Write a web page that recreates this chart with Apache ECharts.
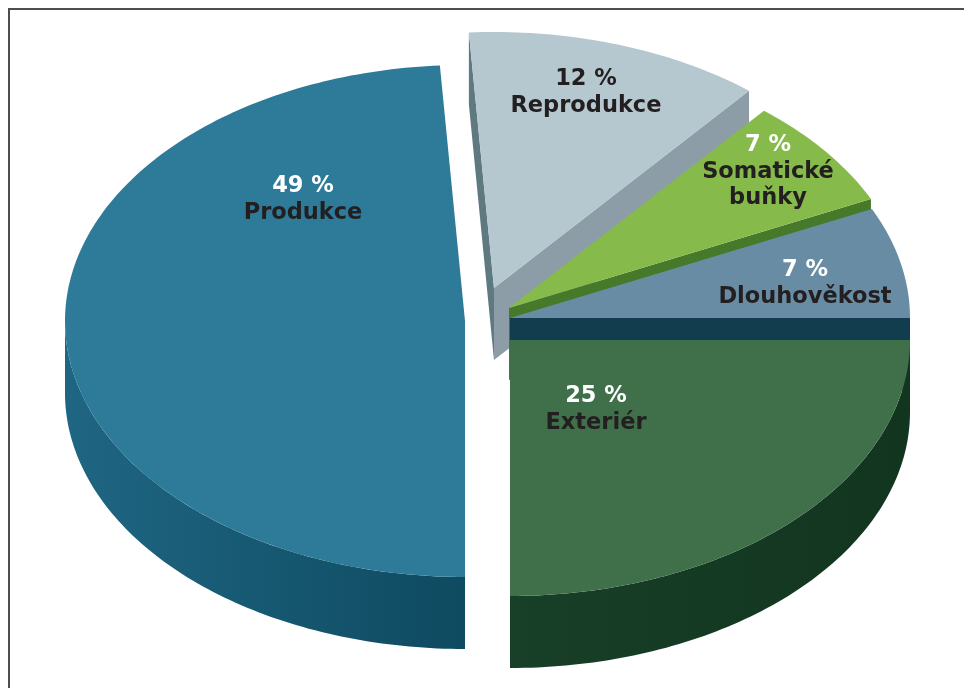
<!DOCTYPE html>
<html><head><meta charset="utf-8">
<script src="https://cdn.jsdelivr.net/npm/echarts@6/dist/echarts.min.js"></script>
<style>html,body{margin:0;padding:0;background:#fff}#c{width:964px;height:688px}</style>
</head><body><div id="c"></div>
<script>
// ---- data ----
const categories = ['Dlouhověkost', 'Somatické\nbuňky', 'Reprodukce', 'Produkce', 'Exteriér'];
const values = [7, 7, 12, 49, 25];
const percentLabels = ['7 %', '7 %', '12 %', '49 %', '25 %'];

// ---- styles ----
const topColors = ['#688ca3', '#86bb4c', '#b5c7cf', '#2e7a99', '#40704a'];
const startFaceColors = ['#123d4f', '#467a2a', '#8d9da7', '#1b5f7a', '#163d26'];
const endFaceColors = ['#123d4f', '#467a2a', '#5f7981', '#1b5f7a', '#163d26'];
const rimColorsA = ['#123d4f', '#467a2a', '#8d9da7', '#1f6683', '#183f28'];
const rimColorsB = ['#123d4f', '#467a2a', '#8d9da7', '#0e4a60', '#12351f'];
const pctColors = ['#ffffff', '#ffffff', '#231f20', '#ffffff', '#ffffff'];
const nameColor = '#231f20';

// ---- layout ----
const CX = 490, CY = 320, RX = 400, RY = 256, DEPTH = 72;
const explode = [[20, -2], [19, -12], [4, -32], [-25, 1], [20, 20]];
const labelShift = [[295, -35], [259, -137], [92, -196], [-162, -122], [86, 69]];
const drawRank = [3, 2, 1, 5, 4];
const FONT = 'DejaVu Sans';
const FS = 22.5;

const total = values.reduce((s, v) => s + v, 0);
const starts = [];
values.reduce((acc, v, i) => { starts[i] = acc; return acc + v; }, 0);

const D2R = Math.PI / 180;
function rim(ax, ay, deg) { return [ax + RX * Math.cos(deg * D2R), ay - RY * Math.sin(deg * D2R)]; }
function arcPts(ax, ay, a0, a1) {
  const pts = [];
  const n = Math.max(2, Math.ceil(Math.abs(a1 - a0)));
  for (let k = 0; k <= n; k++) pts.push(rim(ax, ay, a0 + (a1 - a0) * k / n));
  return pts;
}
function face(ax, ay, deg) {
  const r = rim(ax, ay, deg);
  return [[ax, ay], r, [r[0], r[1] + DEPTH], [ax, ay + DEPTH]];
}

function renderItem(params, api) {
  const i = params.dataIndex;
  const v = api.value(0);
  const a0 = 360 * starts[i] / total;
  const a1 = a0 + 360 * v / total;
  const ax = CX + explode[i][0], ay = CY + explode[i][1];
  const base = drawRank[i] * 10;
  const children = [];
  const lo = Math.max(a0, 180), hi = Math.min(a1, 360);
  if (hi > lo) {
    const top = arcPts(ax, ay, lo, hi);
    const bottom = top.map(p => [p[0], p[1] + DEPTH]).reverse();
    children.push({
      type: 'polygon', z2: base,
      shape: { points: top.concat(bottom) },
      style: { fill: new echarts.graphic.LinearGradient(0, 0, 1, 0, [
        { offset: 0, color: rimColorsA[i] }, { offset: 1, color: rimColorsB[i] }]) }
    });
  }
  if (Math.cos(a0 * D2R) > 1e-6) {
    children.push({ type: 'polygon', z2: base + 1, shape: { points: face(ax, ay, a0) },
      style: { fill: startFaceColors[i] } });
  }
  if (Math.cos(a1 * D2R) < -1e-6) {
    children.push({ type: 'polygon', z2: base + 1, shape: { points: face(ax, ay, a1) },
      style: { fill: endFaceColors[i] } });
  }
  children.push({
    type: 'polygon', z2: base + 2,
    shape: { points: [[ax, ay]].concat(arcPts(ax, ay, a0, a1)) },
    style: { fill: topColors[i] }
  });
  const nameLines = categories[i].split('\n').map(s => '{n|' + s + '}').join('\n');
  children.push({
    type: 'text', z2: 200,
    x: ax + labelShift[i][0], y: ay + labelShift[i][1],
    style: {
      text: '{p|' + percentLabels[i] + '}\n' + nameLines,
      align: 'center', verticalAlign: 'middle',
      rich: {
        p: { fill: pctColors[i], fontSize: FS, fontWeight: 'bold', fontFamily: FONT, lineHeight: 28, align: 'center' },
        n: { fill: nameColor, fontSize: FS, fontWeight: 'bold', fontFamily: FONT, lineHeight: 26, align: 'center' }
      }
    }
  });
  return { type: 'group', children };
}

const chart = echarts.init(document.getElementById('c'), null, { renderer: 'canvas' });
chart.setOption({
  backgroundColor: '#ffffff',
  animation: false,
  graphic: [{
    type: 'rect', silent: true, z: 100,
    shape: { x: 9, y: 9, width: 1200, height: 1200 },
    style: { fill: 'none', stroke: '#4d4d4d', lineWidth: 2 }
  }],
  series: [{
    type: 'custom',
    coordinateSystem: 'none',
    renderItem: renderItem,
    data: values.map((v, i) => ({ name: categories[i], value: [v] }))
  }]
});
</script>
</body></html>
